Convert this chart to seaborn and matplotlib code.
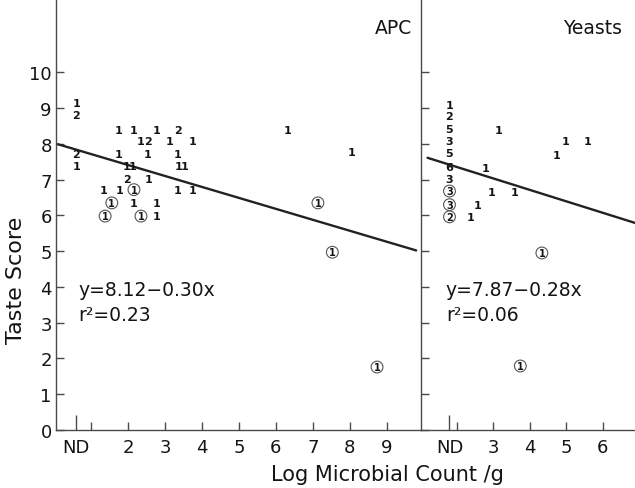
import pandas as pd
import seaborn as sns
import matplotlib.pyplot as plt

# APC panel: log count (ND plotted at 0.6), taste score, sample count, circled flag
apc_x = [0.6, 0.6, 0.6, 0.6, 1.74, 2.14, 2.76, 3.36, 6.32, 2.34, 2.55, 3.12, 3.75,
         1.74, 2.53, 3.34, 1.95, 2.12, 3.36, 3.54, 8.05, 1.96, 2.55, 1.33, 1.76,
         2.16, 3.34, 3.75, 1.56, 2.16, 2.76, 7.14, 1.38, 2.35, 2.76, 7.53, 8.74]
apc_y = [9.13, 8.80, 7.73, 7.39, 8.40, 8.40, 8.40, 8.40, 8.40, 8.08, 8.08, 8.08, 8.08,
         7.73, 7.73, 7.73, 7.39, 7.39, 7.39, 7.39, 7.76, 7.03, 7.03, 6.72, 6.72,
         6.72, 6.72, 6.72, 6.35, 6.35, 6.35, 6.35, 5.98, 5.98, 5.98, 4.97, 1.76]
apc_n = [1, 2, 2, 1, 1, 1, 1, 2, 1, 1, 2, 1, 1,
         1, 1, 1, 1, 1, 1, 1, 1, 2, 1, 1, 1,
         1, 1, 1, 1, 1, 1, 1, 1, 1, 1, 1, 1]
apc_circled = [0, 0, 0, 0, 0, 0, 0, 0, 0, 0, 0, 0, 0,
               0, 0, 0, 0, 0, 0, 0, 0, 0, 0, 0, 0,
               1, 0, 0, 1, 0, 0, 1, 1, 1, 0, 1, 1]

# Yeasts panel (ND plotted at 1.8)
yeast_x = [1.8, 1.8, 1.8, 1.8, 1.8, 1.8, 1.8, 1.8, 1.8, 1.8,
           3.15, 4.97, 5.58, 4.74, 2.78, 2.96, 3.58, 2.57, 2.37, 4.33, 3.74]
yeast_y = [9.10, 8.78, 8.42, 8.08, 7.75, 7.36, 7.02, 6.68, 6.30, 5.96,
           8.40, 8.08, 8.08, 7.68, 7.33, 6.65, 6.65, 6.30, 5.96, 4.95, 1.79]
yeast_n = [1, 2, 5, 3, 5, 6, 3, 3, 3, 2,
           1, 1, 1, 1, 1, 1, 1, 1, 1, 1, 1]
yeast_circled = [0, 0, 0, 0, 0, 0, 0, 1, 1, 1,
                 0, 0, 0, 0, 0, 0, 0, 0, 0, 1, 1]

# fitted lines as drawn
apc_line_x = [0.1, 9.8]
apc_line_y = [7.99, 5.02]
yeast_line_x = [1.2, 6.88]
yeast_line_y = [7.61, 5.79]

apc_ticks = [0.6, 2, 3, 4, 5, 6, 7, 8, 9]
apc_ticklabels = ["ND", "2", "3", "4", "5", "6", "7", "8", "9"]
yeast_ticks = [1.8, 3, 4, 5, 6]
yeast_ticklabels = ["ND", "3", "4", "5", "6"]

sns.set_style("ticks")
plt.rcParams['font.family'] = ['DejaVu Sans']

ink = "#141414"
axis_col = "#4a4a4a"

fig = plt.figure(figsize=(6.35, 4.89), dpi=100)
ax1 = fig.add_axes([56 / 635, 58 / 489, 365 / 635, 431 / 489])
ax2 = fig.add_axes([421 / 635, 58 / 489, 214 / 635, 431 / 489])


def draw_panel(ax, xs, ys, ns, circ, lx, ly, ticks, ticklabels, minor):
    df = pd.DataFrame({"x": xs, "y": ys, "n": ns, "circled": circ})
    ring = df[df["circled"] == 1]
    sns.scatterplot(data=ring, x="x", y="y", ax=ax, marker="o", s=72,
                    color="white", edgecolor="#555555", linewidth=0.8, legend=False)
    ax.collections[-1].set_facecolor("none")
    for _, r in df.iterrows():
        ax.text(r["x"], r["y"], str(int(r["n"])), ha="center", va="center",
                fontsize=7 if r["circled"] else 8, fontweight="bold", color=ink)
    sns.lineplot(x=lx, y=ly, ax=ax, color="#222222", linewidth=1.7)
    ax.set_xlabel("")
    ax.set_ylabel("")
    ax.set_ylim(0, 12.05)
    ax.set_yticks(range(0, 11))
    ax.set_xticks(ticks)
    ax.set_xticklabels(ticklabels)
    ax.set_xticks(minor, minor=True)
    sns.despine(ax=ax)
    for s in ["left", "bottom"]:
        ax.spines[s].set_color(axis_col)
        ax.spines[s].set_linewidth(1.0)
    ax.tick_params(axis="x", which="both", direction="in", length=6, width=1,
                   color=axis_col, labelcolor=ink, labelsize=13, pad=6)
    ax.tick_params(axis="y", direction="in", length=6, width=1,
                   color=axis_col, labelcolor=ink, labelsize=13, pad=3)
    ax.xaxis.get_major_ticks()[0].tick1line.set_markersize(11)


draw_panel(ax1, apc_x, apc_y, apc_n, apc_circled, apc_line_x, apc_line_y,
           apc_ticks, apc_ticklabels, [1])
ax1.set_xlim(0.05, 9.93)
draw_panel(ax2, yeast_x, yeast_y, yeast_n, yeast_circled, yeast_line_x, yeast_line_y,
           yeast_ticks, yeast_ticklabels, [2])
ax2.set_xlim(1.02, 6.88)
ax2.tick_params(axis="y", labelleft=False)

ax1.text(9.68, 11.09, "APC", ha="right", va="baseline", fontsize=13.5, color=ink)
ax2.text(6.53, 11.09, "Yeasts", ha="right", va="baseline", fontsize=13.5, color=ink)

ax1.text(0.65, 3.77, "y=8.12\u22120.30x", va="baseline", fontsize=13.5, color=ink)
ax1.text(0.65, 3.08, "r\u00b2=0.23", va="baseline", fontsize=13.5, color=ink)
ax2.text(1.70, 3.77, "y=7.87\u22120.28x", va="baseline", fontsize=13.5, color=ink)
ax2.text(1.70, 3.08, "r\u00b2=0.06", va="baseline", fontsize=13.5, color=ink)

fig.text(387 / 635, 8 / 489, "Log Microbial Count /g", ha="center", va="baseline",
         fontsize=15, color=ink)
fig.text(16 / 635, 1 - 280 / 489, "Taste Score", ha="center", va="center",
         rotation=90, fontsize=16, color=ink)

fig.savefig("out.png", dpi=100, facecolor="white")
